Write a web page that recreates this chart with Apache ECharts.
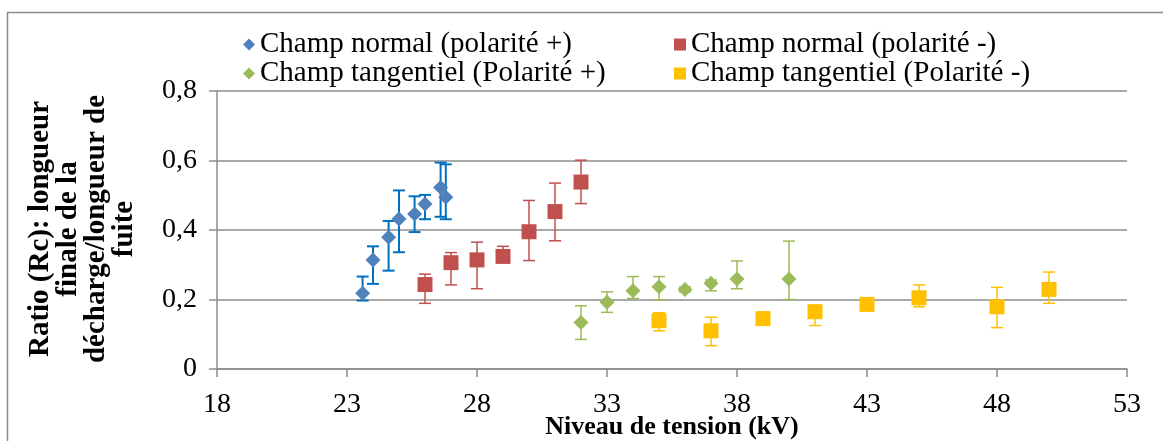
<!DOCTYPE html>
<html><head><meta charset="utf-8">
<script src="https://cdn.jsdelivr.net/npm/echarts@6/dist/echarts.min.js"></script>
<style>html,body{margin:0;padding:0;background:#fff}#c{width:1163px;height:441px}</style>
</head><body><div id="c"></div>
<script>
const seriesNames = ['Champ normal (polarité +)', 'Champ normal (polarité -)', 'Champ tangentiel (Polarité +)', 'Champ tangentiel (Polarité -)'];
const xTicks = [18, 23, 28, 33, 38, 43, 48, 53];
const yTicks = [0, 0.2, 0.4, 0.6, 0.8];
const yTickLabels = ['0', '0,2', '0,4', '0,6', '0,8'];

const blueX = [23.6, 24.0, 24.6, 25.0, 25.6, 26.0, 26.6, 26.8];
const blueY = [0.218, 0.314, 0.379, 0.432, 0.446, 0.475, 0.522, 0.494];
const blueLow = [0.197, 0.245, 0.283, 0.336, 0.394, 0.431, 0.438, 0.431];
const blueHigh = [0.266, 0.353, 0.426, 0.514, 0.497, 0.501, 0.594, 0.589];

const redX = [26, 27, 28, 29, 30, 31, 32];
const redY = [0.243, 0.306, 0.314, 0.324, 0.395, 0.453, 0.538];
const redLow = [0.189, 0.242, 0.231, 0.31, 0.312, 0.369, 0.476];
const redHigh = [0.273, 0.335, 0.365, 0.353, 0.485, 0.535, 0.601];

const greenX = [32, 33, 34, 35, 36, 37, 38, 40];
const greenY = [0.134, 0.192, 0.225, 0.237, 0.229, 0.247, 0.259, 0.259];
const greenLow = [0.085, 0.163, 0.203, 0.199, 0.222, 0.225, 0.231, 0.2];
const greenHigh = [0.182, 0.222, 0.266, 0.266, 0.236, 0.256, 0.311, 0.368];

const yellowX = [35, 37, 39, 41, 43, 45, 48, 50];
const yellowY = [0.139, 0.110, 0.145, 0.165, 0.186, 0.205, 0.179, 0.229];
const yellowLow = [0.11, 0.067, 0.145, 0.125, 0.186, 0.179, 0.119, 0.189];
const yellowHigh = [0.162, 0.149, 0.145, 0.18, 0.186, 0.242, 0.235, 0.279];

const FONT = 'Liberation Serif';
const chart = echarts.init(document.getElementById('c'), null, {renderer: 'canvas'});

function pts(xs, ys) { return xs.map((x, i) => [x, ys[i]]); }
function errs(xs, lo, hi) { return xs.map((x, i) => [x, lo[i], hi[i]]); }

function errSeries(name, data, color, width) {
  return {
    name: name, type: 'custom', data: data, silent: true, z: 2,
    encode: {x: 0, y: [1, 2]},
    renderItem: function (params, api) {
      const lo = api.coord([api.value(0), api.value(1)]);
      const hi = api.coord([api.value(0), api.value(2)]);
      if (Math.abs(hi[1] - lo[1]) < 1) return null;
      const hw = 6;
      const st = {stroke: color, lineWidth: width};
      return {type: 'group', children: [
        {type: 'line', shape: {x1: lo[0], y1: lo[1], x2: hi[0], y2: hi[1]}, style: st},
        {type: 'line', shape: {x1: lo[0] - hw, y1: lo[1], x2: lo[0] + hw, y2: lo[1]}, style: st},
        {type: 'line', shape: {x1: hi[0] - hw, y1: hi[1], x2: hi[0] + hw, y2: hi[1]}, style: st}
      ]};
    }
  };
}

function scat(name, data, color, symbol, size) {
  return {name: name, type: 'scatter', data: data, symbol: symbol, symbolSize: size, z: 3,
    itemStyle: {color: color, opacity: 1}, emphasis: {disabled: true}};
}

const legendText = {fontFamily: FONT, fontSize: 29, color: '#000', lineHeight: 28};

chart.setOption({
  animation: false,
  backgroundColor: '#fff',
  grid: {left: 217, top: 91, width: 910, height: 278, outerBoundsMode: 'none', containLabel: false},
  xAxis: {
    type: 'value', min: 18, max: 53,
    axisLine: {show: true, lineStyle: {color: '#8c8c8c', width: 1.5}},
    axisTick: {show: true, length: 8, inside: false, customValues: xTicks, lineStyle: {color: '#8c8c8c', width: 1.5}},
    axisLabel: {customValues: xTicks, fontFamily: FONT, fontSize: 28, color: '#000', margin: 22},
    splitLine: {show: false},
    name: 'Niveau de tension (kV)', nameLocation: 'middle', nameGap: 45, nameMoveOverlap: false,
    nameTextStyle: {fontFamily: FONT, fontSize: 26, fontWeight: 'bold', color: '#000', verticalAlign: 'top'}
  },
  yAxis: {
    type: 'value', min: 0, max: 0.8, interval: 0.2,
    axisLine: {show: true, lineStyle: {color: '#8c8c8c', width: 1.5}},
    axisTick: {show: true, length: 8, lineStyle: {color: '#8c8c8c', width: 1.5}},
    axisLabel: {fontFamily: FONT, fontSize: 28, color: '#000', margin: 20,
      formatter: function (v) { const i = yTicks.findIndex(t => Math.abs(t - v) < 1e-9); return i >= 0 ? yTickLabels[i] : ''; }},
    splitLine: {show: true, lineStyle: {color: '#8c8c8c', width: 1.5}}
  },
  legend: [
    {left: 238, top: 25, orient: 'vertical', itemGap: 0, itemWidth: 12, itemHeight: 12, textStyle: legendText,
      data: [{name: seriesNames[0], icon: 'diamond'}, {name: seriesNames[2], icon: 'diamond'}], selectedMode: false},
    {left: 669, top: 25, orient: 'vertical', itemGap: 0, itemWidth: 12, itemHeight: 12, textStyle: legendText,
      data: [{name: seriesNames[1], icon: 'rect'}, {name: seriesNames[3], icon: 'rect'}], selectedMode: false}
  ],
  graphic: [
    {type: 'rect', shape: {x: 7.5, y: 12.5, width: 1180, height: 440}, style: {fill: 'none', stroke: '#8c8c8c', lineWidth: 1.5}, z: -10, silent: true},
    {type: 'text', x: 83, y: 229, rotation: Math.PI / 2, silent: true,
      style: {text: 'Ratio (Rc): longueur\nfinale de la\ndécharge/longueur de\nfuite', fontFamily: FONT, fontSize: 29, fontWeight: 'bold',
        fill: '#000', align: 'center', verticalAlign: 'middle', lineHeight: 28}}
  ],
  series: [
    errSeries('errBlue', errs(blueX, blueLow, blueHigh), '#0070C0', 2),
    errSeries('errRed', errs(redX, redLow, redHigh), '#C0504D', 1.5),
    errSeries('errGreen', errs(greenX, greenLow, greenHigh), '#9BBB59', 1.5),
    errSeries('errYellow', errs(yellowX, yellowLow, yellowHigh), '#FFC000', 1.5),
    scat(seriesNames[0], pts(blueX, blueY), '#4F81BD', 'diamond', 15),
    scat(seriesNames[1], pts(redX, redY), '#C0504D', 'rect', 15),
    scat(seriesNames[2], pts(greenX, greenY), '#9BBB59', 'diamond', 15),
    scat(seriesNames[3], pts(yellowX, yellowY), '#FFC000', 'rect', 15)
  ]
});
</script></body></html>
